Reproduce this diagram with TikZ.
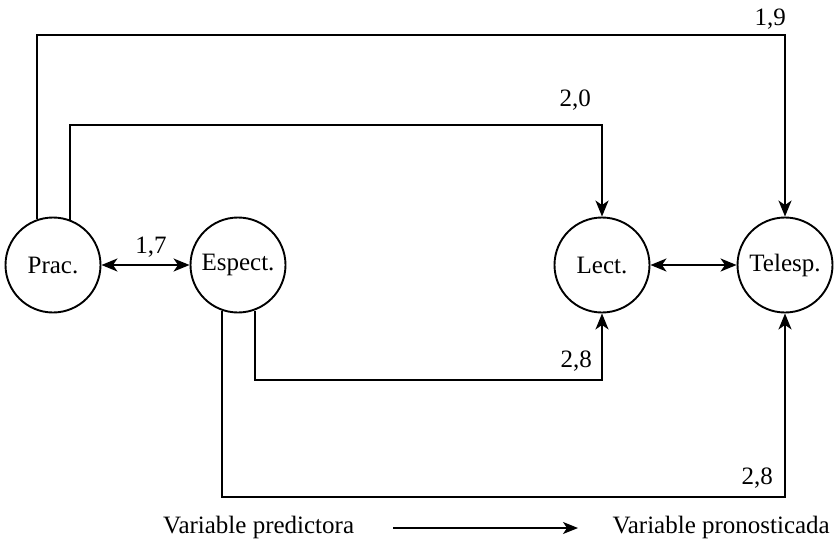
\documentclass[tikz,border=0pt]{standalone}
\usepackage{fontspec}
\setmainfont{Liberation Serif}
\usetikzlibrary{arrows.meta,calc}
\begin{document}
\begin{tikzpicture}[x=1pt,y=-1pt,
  var/.style={circle,draw,line width=1.9pt,minimum size=95pt,inner sep=0pt,font=\fontsize{25}{29}\selectfont},
  con/.style={line width=1.9pt},
  tip/.tip={Stealth[length=16pt,width=13pt,inset=4.5pt]},
  arr/.style={con,-tip},
  both/.style={con,tip-tip},
  lab/.style={font=\fontsize{25}{29}\selectfont,inner sep=0pt}]
\useasboundingbox (0,0) rectangle (837,544);
\node[var] (prac) at (53,265) {Prac.};
\node[var] (espect) at (238,265) {Espect.};
\node[var] (lect) at (602,265) {Lect.};
\node[var] (telesp) at (785,265) {Telesp.};
\coordinate (top1) at (0,35);
\coordinate (top2) at (0,125);
\coordinate (bot1) at (0,380);
\coordinate (bot2) at (0,497);
\draw[both] (prac) -- (espect);
\draw[both] (lect) -- (telesp);
\draw[arr] (prac.109) -- (prac.109 |- top1) -| (telesp.north);
\draw[arr] (prac.69) -- (prac.69 |- top2) -| (lect.north);
\draw[arr] (espect.-70) -- (espect.-70 |- bot1) -| (lect.south);
\draw[arr] (espect.-109) -- (espect.-109 |- bot2) -| (telesp.south);
\node[lab,anchor=base east] (l19) at (786,25) {1,9};
\node[lab,anchor=base east] (l20) at (591,106) {2,0};
\node[lab,anchor=base] (l17) at (151,253) {1,7};
\node[lab,anchor=base east] (l28a) at (592,367) {2,8};
\node[lab,anchor=base east] (l28b) at (773,484) {2,8};
\node[lab,anchor=base west] (pred) at (163,533) {Variable predictora};
\node[lab,anchor=base east] (pron) at (830,533) {Variable pronosticada};
\coordinate (la) at (393,528);
\coordinate (lb) at (578,528);
\draw[line width=1.2pt,-{Stealth[length=15pt,width=12pt,inset=4pt]}] (la) -- (lb);
\end{tikzpicture}
\end{document}
